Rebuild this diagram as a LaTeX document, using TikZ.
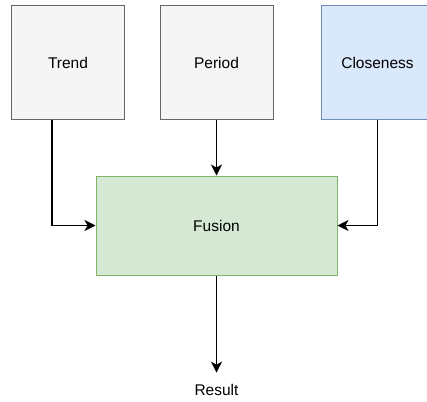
\documentclass[tikz,border=0pt]{standalone}
\usepackage{fontspec}
\setmainfont{Liberation Sans}
\usepackage{xcolor}
\definecolor{inputgray}{HTML}{F5F5F5}
\definecolor{inputedge}{HTML}{666666}
\definecolor{closeblue}{HTML}{DAE8FC}
\definecolor{closeedge}{HTML}{6C8EBF}
\definecolor{fusegreen}{HTML}{D5E8D4}
\definecolor{fuseedge}{HTML}{82B366}
\usetikzlibrary{arrows.meta, positioning}

\begin{document}
\begin{tikzpicture}[x=1pt, y=-1pt,
  source/.style={rectangle, draw=inputedge, line width=1pt, fill=inputgray, minimum width=113pt, minimum height=113pt, font=\fontsize{15.5}{18}\selectfont},
  closebox/.style={source, draw=closeedge, fill=closeblue},
  fusebox/.style={rectangle, draw=fuseedge, line width=1pt, fill=fusegreen, minimum width=241pt, minimum height=99pt, font=\fontsize{15.5}{18}\selectfont},
  outtext/.style={inner xsep=0pt, inner ysep=0pt, text depth=0pt, font=\fontsize{15.5}{18}\selectfont},
  flow/.style={-{Stealth[length=11pt, width=11pt, inset=3pt]}, line width=1.3pt, draw=black}
]
\useasboundingbox (0,0) rectangle (427,401);

% Nodes
\node[source] (trend) at (68,62.5) {Trend};
\node[source] (period) at (216.5,62.5) {Period};
\node[closebox] (closeness) at (377.5,62.5) {Closeness};
\node[fusebox] (fusion) at (216.5,225.5) {Fusion};
\node[outtext] (result) at (216.5,389.5) {Result};

% Flows
\draw[flow] ([xshift=-16pt]trend.south) |- (fusion.west);
\draw[flow] (period.south) -- (fusion.north);
\draw[flow] (closeness.south) |- (fusion.east);
\draw[flow, shorten >=11pt] (fusion.south) -- (result.north);

\end{tikzpicture}
\end{document}
